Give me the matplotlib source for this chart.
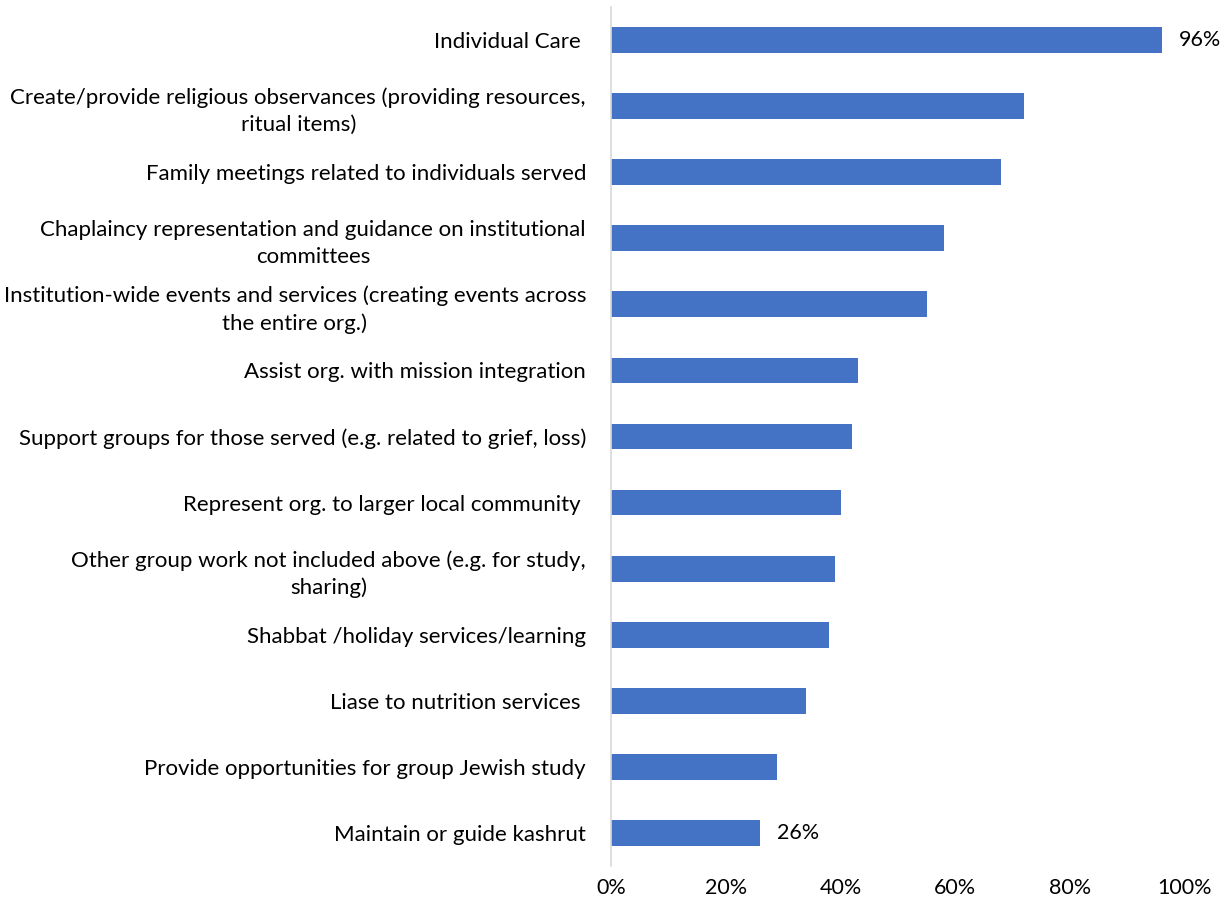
import matplotlib.pyplot as plt
from matplotlib.ticker import FuncFormatter

# activities, top to bottom
activities = [
    "Individual Care ",
    "Create/provide religious observances (providing resources,\nritual items)",
    "Family meetings related to individuals served",
    "Chaplaincy representation and guidance on institutional\ncommittees",
    "Institution-wide events and services (creating events across\nthe entire org.)",
    "Assist org. with mission integration",
    "Support groups for those served (e.g. related to grief, loss)",
    "Represent org. to larger local community ",
    "Other group work not included above (e.g. for study,\nsharing)",
    "Shabbat /holiday services/learning",
    "Liase to nutrition services ",
    "Provide opportunities for group Jewish study",
    "Maintain or guide kashrut",
]
shares = [96, 72, 68, 58, 55, 43, 42, 40, 39, 38, 34, 29, 26]
labelled = {0, 12}  # only first and last bars carry a value label

plt.rcParams["font.family"] = ["Lato", "DejaVu Sans"]

fig = plt.figure(figsize=(12.28, 9.10), dpi=100)
ax = fig.add_axes([611 / 1228, 1 - 866 / 910, (1185 - 611) / 1228, (866 - 7) / 910])

ypos = list(range(len(activities)))
ax.barh(ypos, shares, height=0.39, color="#4472C4")
ax.set_ylim(len(activities) - 0.5, -0.5)
ax.set_xlim(0, 100)

for i in labelled:
    ax.text(shares[i] + 3.0, ypos[i], f"{shares[i]}%", va="center", ha="left",
            fontsize=15.5, color="#000000")

ax.set_yticks(ypos)
ax.set_yticklabels(activities, fontsize=16, multialignment="center", linespacing=1.4)
ax.set_xticks([0, 20, 40, 60, 80, 100])
ax.xaxis.set_major_formatter(FuncFormatter(lambda v, _: f"{v:.0f}%"))
ax.tick_params(axis="x", labelsize=15.5, length=0, pad=9)
ax.tick_params(axis="y", length=0, pad=18)

for side in ("top", "right", "bottom"):
    ax.spines[side].set_visible(False)
ax.spines["left"].set_color("#D9D9D9")
ax.spines["left"].set_linewidth(1.2)

fig.savefig("out.png", dpi=100)
